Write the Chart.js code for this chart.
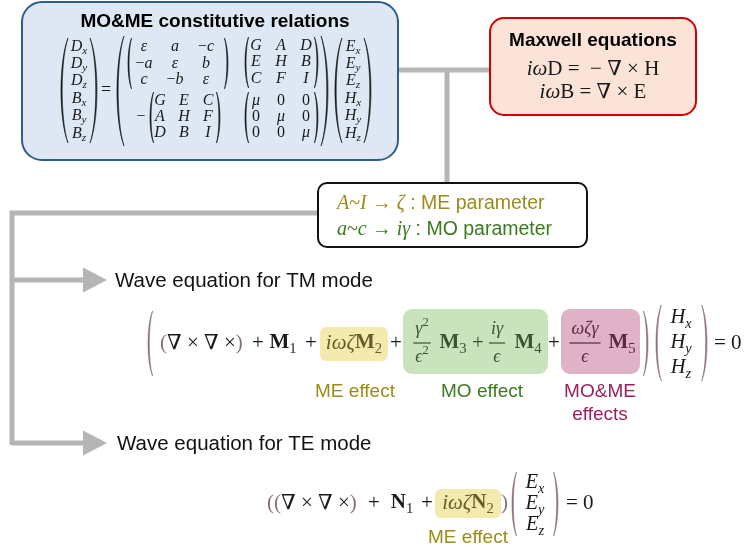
<!DOCTYPE html>
<html>
<head>
<meta charset="utf-8">
<script src="https://cdn.jsdelivr.net/npm/chart.js@4"></script>
<style>
  html, body { margin: 0; padding: 0; background: #fff; }
  #wrap { width: 746px; height: 550px; }
</style>
</head>
<body>
<div id="wrap"><canvas id="diagram"></canvas></div>
<script>
const SANS = '"Liberation Sans", Arial, sans-serif';
const SERIF = '"Liberation Serif", "DejaVu Serif", serif';

// Diagram content (math markup: _{..} sub, ^{..} sup, \b{..} bold, \r{..} upright, \p{..} brown)
const boxTitles = ['MO&ME constitutive relations', 'Maxwell equations'];
const maxwellLines = ['iω\\r{D} =  − ∇ × \\r{H}', 'iω\\r{B} = ∇ × \\r{E}'];
const dbField = ['D_{x}', 'D_{y}', 'D_{z}', 'B_{x}', 'B_{y}', 'B_{z}'];
const ehField = ['E_{x}', 'E_{y}', 'E_{z}', 'H_{x}', 'H_{y}', 'H_{z}'];
const epsMatrix = [['ε', 'a', '−c'], ['−a', 'ε', 'b'], ['c', '−b', 'ε']];
const meMatrix1 = [['G', 'A', 'D'], ['E', 'H', 'B'], ['C', 'F', 'I']];
const meMatrix2 = [['G', 'E', 'C'], ['A', 'H', 'F'], ['D', 'B', 'I']];
const muMatrix = [['μ', '0', '0'], ['0', 'μ', '0'], ['0', '0', 'μ']];
const paramMath = ['A~I → ζ', 'a~c → iγ'];
const paramText = [' : ME parameter', ' : MO parameter'];
const waveTitles = ['Wave equation for TM mode', 'Wave equation for TE mode'];
const tmTerms = ['\\p{(}∇ × ∇ ×\\p{)}', '+', '\\b{M}_{1}', '+', 'iωζ\\b{M}_{2}', '+', '+', '+', '= 0'];
const tmFracs = [['γ^{2}', 'ϵ^{2}', '\\b{M}_{3}'], ['iγ', 'ϵ', '\\b{M}_{4}'], ['ωζγ', 'ϵ', '\\b{M}_{5}']];
const hField = ['H_{x}', 'H_{y}', 'H_{z}'];
const teTerms = ['\\p{(}\\p{(}∇ × ∇ ×\\p{)}', '+', '\\b{N}_{1}', '+', 'iωζ\\b{N}_{2}', '\\p{)}', '= 0'];
const eField = ['E_{x}', 'E_{y}', 'E_{z}'];
const effectLabels = ['ME effect', 'MO effect', 'MO&ME', 'effects'];

const colors = {
  gray: '#b5b5b5', blueFill: '#dde8f4', blueLine: '#2f5e8c',
  redFill: '#fbe4d7', redLine: '#d40000', olive: '#9c8b14', green: '#3b7b1f',
  plum: '#9b1f5c', brown: '#8c7070', yellowBox: '#f4eaae', greenBox: '#c9e4bd',
  pinkBox: '#dfb2c8', yellowInk: '#6b5a2a', greenInk: '#3a5530', pinkInk: '#5a2a44'
};

function styleOf(ch) { return /[A-Za-zα-ωϵ]/.test(ch) ? 'i' : 'r'; }

function parseMath(s) {
  const out = [];
  let i = 0;
  while (i < s.length) {
    const c = s[i];
    if ((c === '_' || c === '^') && s[i + 1] === '{') {
      const j = s.indexOf('}', i);
      for (const ch of s.slice(i + 2, j)) out.push({ t: ch, mode: c === '_' ? 'sub' : 'sup', style: styleOf(ch) });
      i = j + 1;
    } else if (c === '\\' && s[i + 2] === '{') {
      const j = s.indexOf('}', i);
      const st = s[i + 1];
      for (const ch of s.slice(i + 3, j)) out.push({ t: ch, mode: 'n', style: st });
      i = j + 1;
    } else {
      out.push({ t: c, mode: 'n', style: styleOf(c) });
      i++;
    }
  }
  return out;
}

const diagramPlugin = {
  id: 'diagram',
  afterDraw(chart) {
    const ctx = chart.ctx;
    const X = v => chart.scales.x.getPixelForValue(v);
    const Y = v => chart.scales.y.getPixelForValue(v);
    ctx.save();
    ctx.textBaseline = 'middle';

    function run(s, x, y, size, color, draw) {
      let cx = x;
      for (const t of parseMath(s)) {
        const fs = t.mode === 'n' ? size : size * 0.7;
        const dy = t.mode === 'sub' ? size * 0.28 : t.mode === 'sup' ? -size * 0.36 : 0;
        const st = t.style === 'i' ? 'italic ' : t.style === 'b' ? 'bold ' : '';
        ctx.font = st + fs + 'px ' + SERIF;
        if (draw) {
          ctx.fillStyle = t.style === 'p' ? colors.brown : color;
          ctx.fillText(t.t, cx, y + dy);
        }
        cx += ctx.measureText(t.t).width;
      }
      return cx - x;
    }
    function math(s, x, y, size, color, align) {
      const w = run(s, 0, 0, size, color, false);
      const x0 = align === 'center' ? X(x) - w / 2 : align === 'right' ? X(x) - w : X(x);
      run(s, x0, Y(y), size, color, true);
      return w;
    }
    function text(s, x, y, font, color, align) {
      ctx.font = font;
      ctx.fillStyle = color;
      ctx.textAlign = align || 'left';
      ctx.fillText(s, X(x), Y(y));
      const w = ctx.measureText(s).width;
      ctx.textAlign = 'left';
      return w;
    }
    function frac(num, den, cx, cy, size, color) {
      const w1 = math(num, cx, cy - size * 0.78, size, color, 'center');
      const w2 = math(den, cx, cy + size * 0.8, size, color, 'center');
      const w = Math.max(w1, w2) + 4;
      ctx.fillStyle = color;
      ctx.fillRect(X(cx) - w / 2, Y(cy) - 0.6, w, 1.2);
    }
    function rrect(x1, y1, x2, y2, r, fill, stroke, lw) {
      const a = X(x1), b = Y(y1), c = X(x2), d = Y(y2);
      ctx.beginPath();
      ctx.moveTo(a + r, b);
      ctx.arcTo(c, b, c, d, r);
      ctx.arcTo(c, d, a, d, r);
      ctx.arcTo(a, d, a, b, r);
      ctx.arcTo(a, b, c, b, r);
      ctx.closePath();
      if (fill) { ctx.fillStyle = fill; ctx.fill(); }
      if (stroke) { ctx.strokeStyle = stroke; ctx.lineWidth = lw; ctx.stroke(); }
    }
    function paren(x, y1, y2, dir, color, t) {
      // dir -1 => "(", +1 => ")"; x is the outermost point of the curve
      const px = X(x), a = Y(y1), b = Y(y2), h = b - a;
      const bulge = Math.min(7, Math.max(3.5, h * 0.07));
      const ex = px - dir * bulge;
      const c1 = px + dir * bulge / 3;
      const c2 = c1 - dir * t * 4 / 3;
      ctx.beginPath();
      ctx.moveTo(ex, a);
      ctx.bezierCurveTo(c1, a + h * 0.22, c1, b - h * 0.22, ex, b);
      ctx.bezierCurveTo(c2, b - h * 0.22, c2, a + h * 0.22, ex, a);
      ctx.closePath();
      ctx.fillStyle = color;
      ctx.fill();
      ctx.strokeStyle = color;
      ctx.lineWidth = 0.6;
      ctx.stroke();
    }
    function line(pts, color, lw) {
      ctx.beginPath();
      pts.forEach((p, i) => i ? ctx.lineTo(X(p[0]), Y(p[1])) : ctx.moveTo(X(p[0]), Y(p[1])));
      ctx.strokeStyle = color;
      ctx.lineWidth = lw;
      ctx.lineCap = 'butt';
      ctx.lineJoin = 'miter';
      ctx.stroke();
    }
    function arrow(y) {
      line([[12, y], [86, y]], colors.gray, 5);
      ctx.beginPath();
      ctx.moveTo(X(83), Y(y - 12.5));
      ctx.lineTo(X(107), Y(y));
      ctx.lineTo(X(83), Y(y + 12.5));
      ctx.closePath();
      ctx.fillStyle = colors.gray;
      ctx.fill();
    }
    function matrix(cells, cols, rows, size, color) {
      cells.forEach((r, i) => r.forEach((c, j) => math(c, cols[j], rows[i], size, color, 'center')));
    }

    // connectors
    line([[398, 70], [490, 70]], colors.gray, 5);
    line([[447, 70], [447, 184]], colors.gray, 5);
    line([[318, 213], [12, 213], [12, 445]], colors.gray, 5);
    arrow(280);
    arrow(443);

    // constitutive relations box
    const ink = '#1a1a1a';
    const ms = 16;
    rrect(22, 2, 398, 160, 20, colors.blueFill, colors.blueLine, 2);
    text(boxTitles[0], 215, 22, 'bold 19px ' + SANS, '#000', 'center');
    const rows6 = [47, 64, 81, 99, 116, 134];
    dbField.forEach((s, i) => math(s, 79, rows6[i], ms, ink, 'center'));
    paren(61, 38, 143, -1, ink, 1.2);
    paren(97, 38, 143, 1, ink, 1.2);
    math('=', 106, 90, 18, ink, 'center');
    paren(117, 36, 146, -1, ink, 1.2);
    matrix(epsMatrix, [144, 175, 206], [47, 64, 80], ms, ink);
    paren(128, 38, 89, -1, ink, 1.1);
    paren(228, 38, 89, 1, ink, 1.1);
    matrix(meMatrix1, [256, 281, 306], [46, 62, 79], ms, ink);
    paren(245, 37, 88, -1, ink, 1.1);
    paren(318, 37, 88, 1, ink, 1.1);
    math('−', 141, 117, ms, ink, 'center');
    matrix(meMatrix2, [160, 184, 208], [101, 117, 133], ms, ink);
    paren(150, 92, 143, -1, ink, 1.1);
    paren(220, 92, 143, 1, ink, 1.1);
    matrix(muMatrix, [256, 281, 306], [101, 117, 133], ms, ink);
    paren(245, 92, 143, -1, ink, 1.1);
    paren(318, 92, 143, 1, ink, 1.1);
    paren(328, 36, 146, 1, ink, 1.2);
    ehField.forEach((s, i) => math(s, 353, rows6[i], ms, ink, 'center'));
    paren(335, 38, 143, -1, ink, 1.2);
    paren(371, 38, 143, 1, ink, 1.2);

    // Maxwell box
    rrect(490, 18, 696, 115, 14, colors.redFill, colors.redLine, 2);
    text(boxTitles[1], 593, 41, 'bold 19px ' + SANS, '#000', 'center');
    math(maxwellLines[0], 593, 69, 21, ink, 'center');
    math(maxwellLines[1], 593, 92, 21, ink, 'center');

    // parameter box
    rrect(318, 183, 587, 247, 9, '#fff', '#111', 2);
    [204, 230].forEach((y, i) => {
      const col = i === 0 ? colors.olive : colors.green;
      const w = math(paramMath[i], 337, y, 20, col, 'left');
      text(paramText[i], 337 + w, y, '19.5px ' + SANS, col, 'left');
    });

    // titles
    text(waveTitles[0], 115, 281, '20.5px ' + SANS, '#111', 'left');
    text(waveTitles[1], 117, 444, '20.5px ' + SANS, '#111', 'left');

    // TM equation
    const ty = 343;
    paren(148, 311, 376, -1, colors.brown, 1.3);
    math(tmTerms[0], 160, ty, 21, ink, 'left');
    math(tmTerms[1], 258, ty, 21, ink, 'center');
    math(tmTerms[2], 283, ty, 21, ink, 'center');
    math(tmTerms[3], 311, ty, 21, ink, 'center');
    rrect(320, 327, 388, 361, 6, colors.yellowBox);
    math(tmTerms[4], 354, ty, 21, colors.yellowInk, 'center');
    math(tmTerms[5], 396, ty, 21, ink, 'center');
    rrect(403, 309, 548, 374, 9, colors.greenBox);
    frac(tmFracs[0][0], tmFracs[0][1], 422, ty, 18, colors.greenInk);
    math(tmFracs[0][2], 453, ty, 21, colors.greenInk, 'center');
    math('+', 478, ty, 21, colors.greenInk, 'center');
    frac(tmFracs[1][0], tmFracs[1][1], 497, ty, 18, colors.greenInk);
    math(tmFracs[1][2], 528, ty, 21, colors.greenInk, 'center');
    math(tmTerms[6], 554, ty, 21, ink, 'center');
    rrect(561, 309, 640, 374, 9, colors.pinkBox);
    frac(tmFracs[2][0], tmFracs[2][1], 585, ty, 18, colors.pinkInk);
    math(tmFracs[2][2], 622, ty, 21, colors.pinkInk, 'center');
    paren(648, 311, 376, 1, colors.brown, 1.3);
    paren(656, 305, 381, -1, colors.brown, 1.3);
    hField.forEach((s, i) => math(s, 681, [318, 343, 368][i], 20.5, ink, 'center'));
    paren(707, 305, 381, 1, colors.brown, 1.3);
    math(tmTerms[8], 714, ty, 21, ink, 'left');

    const lf = '19px ' + SANS;
    text(effectLabels[0], 355, 392, lf, colors.olive, 'center');
    text(effectLabels[1], 482, 392, lf, colors.green, 'center');
    text(effectLabels[2], 600, 392, lf, colors.plum, 'center');
    text(effectLabels[3], 600, 415, lf, colors.plum, 'center');

    // TE equation
    const ey = 503;
    math(teTerms[0], 267, ey, 21, ink, 'left');
    math(teTerms[1], 374, ey, 21, ink, 'center');
    math(teTerms[2], 402, ey, 21, ink, 'center');
    math(teTerms[3], 427, ey, 21, ink, 'center');
    rrect(435, 489, 501, 518, 6, colors.yellowBox);
    math(teTerms[4], 468, ey, 21, colors.yellowInk, 'center');
    math(teTerms[5], 501, ey, 21, ink, 'left');
    paren(512, 472, 536, -1, colors.brown, 1.3);
    eField.forEach((s, i) => math(s, 535, [483, 504, 525][i], 20.5, ink, 'center'));
    paren(558, 472, 536, 1, colors.brown, 1.3);
    math(teTerms[6], 566, ey, 21, ink, 'left');
    text(effectLabels[0], 468, 538, lf, colors.olive, 'center');

    ctx.restore();
  }
};

new Chart(document.getElementById('diagram'), {
  type: 'scatter',
  data: { datasets: [{ data: [] }] },
  options: {
    responsive: true,
    maintainAspectRatio: false,
    animation: false,
    layout: { padding: 0 },
    plugins: { legend: { display: false }, tooltip: { enabled: false } },
    scales: {
      x: { type: 'linear', min: 0, max: 746, display: false },
      y: { type: 'linear', min: 0, max: 550, reverse: true, display: false }
    }
  },
  plugins: [diagramPlugin]
});
</script>
</body>
</html>
